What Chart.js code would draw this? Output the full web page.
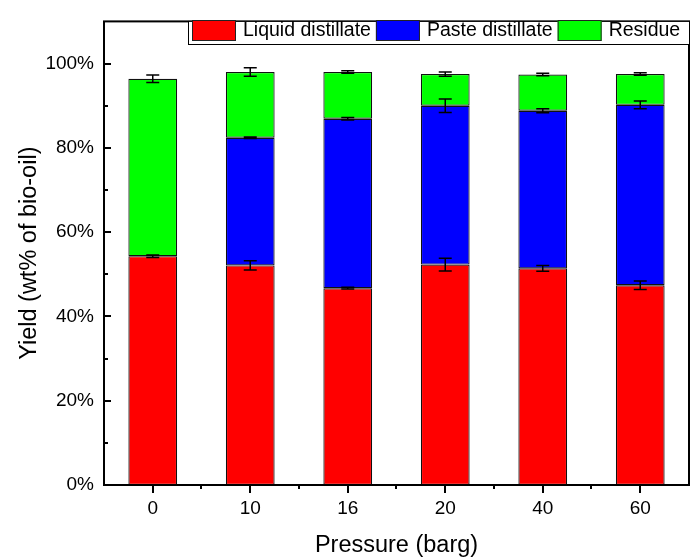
<!DOCTYPE html>
<html>
<head>
<meta charset="utf-8">
<script src="https://cdn.jsdelivr.net/npm/chart.js@4/dist/chart.umd.min.js"></script>
<style>
  html, body { margin: 0; padding: 0; background: #fff; }
  #wrap { width: 690px; height: 557px; position: relative; }
</style>
</head>
<body>
<div id="wrap"><canvas id="yieldChart"></canvas></div>
<script>
// Pressure series (barg) and yield fractions in wt% of bio-oil
const pressures = ['0', '10', '16', '20', '40', '60'];
const liquid  = [54.3, 52.1, 46.7, 52.3, 51.4, 47.4];
const paste   = [0,    30.3, 40.2, 37.7, 37.4, 42.8];
const residue = [42.1, 15.6, 11.1, 7.5,  8.6,  7.3];

// standard deviations for each stacked segment
const liquidErr  = [0.3, 1.1, 0.2, 1.5, 0.7, 1.0];
const pasteErr   = [0,   0.2, 0.3, 1.6, 0.5, 0.9];
const residueErr = [0.9, 1.0, 0.3, 0.5, 0.3, 0.3];

const yTicks = [0, 20, 40, 60, 80, 100];
const yMinor = [10, 30, 50, 70, 90];

const FONT = "'Liberation Sans', Arial, sans-serif";

// error bars on top of every stacked segment
const errorBars = {
  id: 'errorBars',
  afterDatasetsDraw(chart) {
    const ctx = chart.ctx;
    const y = chart.scales.y;
    ctx.save();
    ctx.strokeStyle = '#000';
    ctx.lineWidth = 1.5;
    chart.data.datasets.forEach((ds, i) => {
      const meta = chart.getDatasetMeta(i);
      meta.data.forEach((bar, j) => {
        const err = ds.errors[j];
        if (!err) return;
        let cum = 0;
        for (let k = 0; k <= i; k++) cum += chart.data.datasets[k].data[j];
        const yTop = y.getPixelForValue(cum + err);
        const yBot = y.getPixelForValue(cum - err);
        const x = bar.x;
        ctx.beginPath();
        ctx.moveTo(x, yTop); ctx.lineTo(x, yBot);
        ctx.moveTo(x - 6.5, yTop); ctx.lineTo(x + 6.5, yTop);
        ctx.moveTo(x - 6.5, yBot); ctx.lineTo(x + 6.5, yBot);
        ctx.stroke();
      });
    });
    ctx.restore();
  }
};

// frame, tick marks and boxed legend
const frameAndLegend = {
  id: 'frameAndLegend',
  afterDraw(chart) {
    const ctx = chart.ctx;
    const a = chart.chartArea;
    const xs = chart.scales.x, ys = chart.scales.y;
    ctx.save();
    ctx.strokeStyle = '#000';
    ctx.lineWidth = 2;
    ctx.strokeRect(a.left, a.top, a.right - a.left, a.bottom - a.top);

    ctx.beginPath();
    // y ticks point into the plot
    yTicks.forEach(v => {
      const py = Math.round(ys.getPixelForValue(v));
      ctx.moveTo(a.left, py); ctx.lineTo(a.left + 7, py);
    });
    yMinor.forEach(v => {
      const py = Math.round(ys.getPixelForValue(v));
      ctx.moveTo(a.left, py); ctx.lineTo(a.left + 4, py);
    });
    // x ticks hang below the axis
    pressures.forEach((p, i) => {
      const px = Math.round(xs.getPixelForValue(i));
      ctx.moveTo(px, a.bottom); ctx.lineTo(px, a.bottom + 8);
      if (i > 0) {
        const mx = Math.round((px + xs.getPixelForValue(i - 1)) / 2);
        ctx.moveTo(mx, a.bottom); ctx.lineTo(mx, a.bottom + 4);
      }
    });
    ctx.stroke();

    // legend box in the top right corner
    const boxL = 188, boxT = a.top, boxB = 44;
    ctx.fillStyle = '#fff';
    ctx.fillRect(boxL, boxT, a.right - boxL, boxB - boxT);
    ctx.lineWidth = 1;
    ctx.strokeRect(boxL + 0.5, boxT, a.right - boxL, boxB - boxT + 0.5);
    ctx.font = '19.5px ' + FONT;
    ctx.textBaseline = 'middle';
    let x = 192;
    chart.data.datasets.forEach(ds => {
      ctx.fillStyle = ds.backgroundColor;
      ctx.fillRect(x, 20, 44, 21);
      ctx.strokeStyle = '#222';
      ctx.strokeRect(x + 0.5, 20.5, 43, 20);
      x += 51;
      ctx.fillStyle = '#000';
      ctx.fillText(ds.label, x, 31);
      x += ctx.measureText(ds.label).width + 5;
    });
    ctx.restore();
  }
};

const barStyle = { borderColor: '#111', borderWidth: 1.2, borderSkipped: false,
                   barPercentage: 0.5, categoryPercentage: 1.0 };

new Chart(document.getElementById('yieldChart'), {
  type: 'bar',
  data: {
    labels: pressures,
    datasets: [
      { label: 'Liquid distillate', data: liquid, errors: liquidErr, backgroundColor: '#ff0000', ...barStyle },
      { label: 'Paste distillate', data: paste, errors: pasteErr, backgroundColor: '#0000ff', ...barStyle },
      { label: 'Residue', data: residue, errors: residueErr, backgroundColor: '#00ff00', ...barStyle }
    ]
  },
  options: {
    responsive: true,
    maintainAspectRatio: false,
    animation: false,
    layout: { padding: { top: 14, right: 1, left: 18, bottom: 0 } },
    plugins: { legend: { display: false }, tooltip: { enabled: false } },
    scales: {
      x: {
        stacked: true,
        grid: { display: false, drawTicks: false },
        border: { display: false },
        ticks: { color: '#000', padding: 12, font: { family: FONT, size: 19 } },
        title: { display: true, text: 'Pressure (barg)', color: '#000', padding: 0,
                 font: { family: FONT, size: 23.5, lineHeight: 1 } },
        afterFit: s => { s.height = 72; }
      },
      y: {
        stacked: true,
        min: 0, max: 110,
        grid: { display: false, drawTicks: false },
        border: { display: false },
        afterBuildTicks: s => { s.ticks = yTicks.map(v => ({ value: v })); },
        ticks: { color: '#000', padding: 10, font: { family: FONT, size: 19 },
                 callback: v => v + '%' },
        title: { display: true, text: 'Yield (wt% of bio-oil)', color: '#000', padding: 0,
                 font: { family: FONT, size: 23.5, lineHeight: 1 } },
        afterFit: s => { s.width = 86; }
      }
    }
  },
  plugins: [errorBars, frameAndLegend]
});
</script>
</body>
</html>
